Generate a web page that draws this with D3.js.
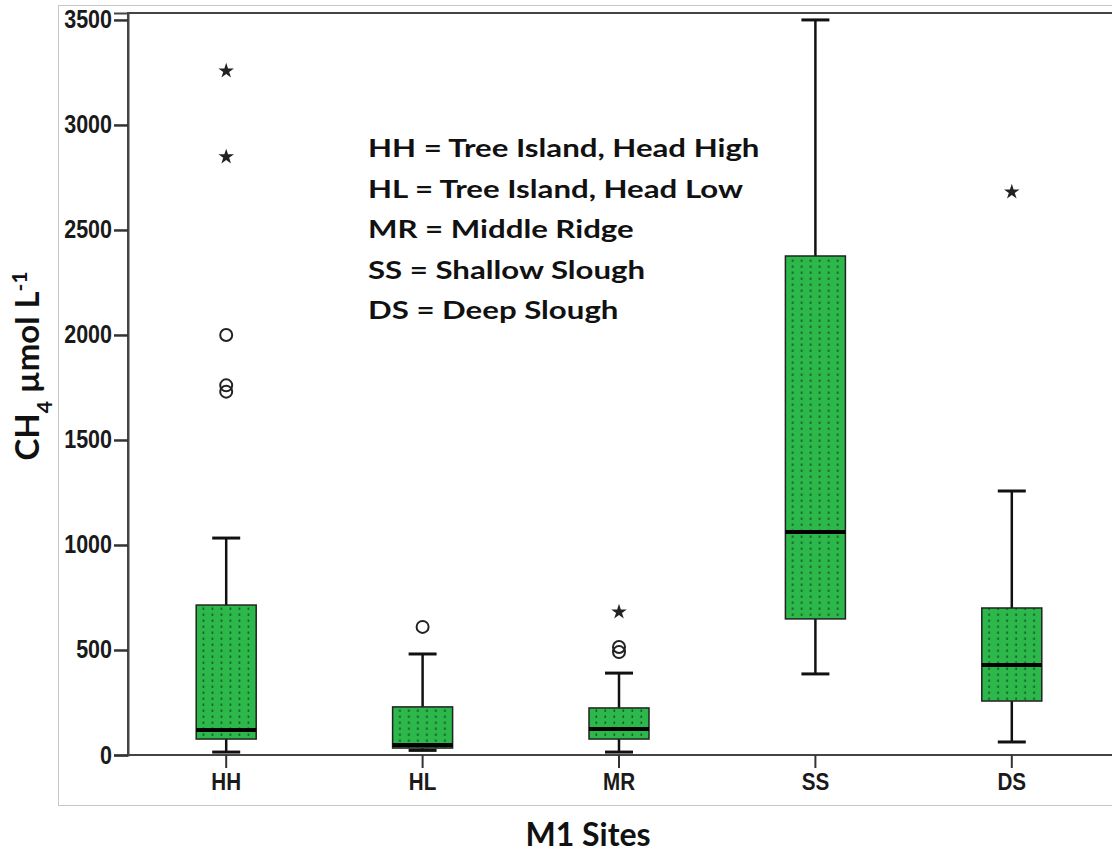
<!DOCTYPE html>
<html>
<head>
<meta charset="utf-8">
<script src="https://cdn.jsdelivr.net/npm/d3@7"></script>
<style>
  body { margin: 0; background: #fff; }
  svg { display: block; }
  .tick text { font-family: "Liberation Sans", Arial, sans-serif; font-weight: bold; fill: #1a1a1a; }
  .legend, .axis-label { font-family: Lato, "Open Sans", sans-serif; font-weight: bold; fill: #111; }
</style>
</head>
<body>
<svg id="chart"></svg>
<script>
// size
const width = 1112;
const height = 852;

// plot area
const plot = { left: 128, right: 1110, top: 13, bottom: 755 };

// data
const sites = ["HH", "HL", "MR", "SS", "DS"];
const whiskerLow  = [14, 22, 14, 386, 62];
const q1          = [76, 33, 76, 648, 257];
const median      = [119, 48, 124, 1062, 429];
const q3          = [714, 229, 224, 2376, 700];
const whiskerHigh = [1033, 481, 390, 3500, 1257];

// circles = outliers, stars = extreme values
const outlierSites  = ["HH", "HH", "HH", "HL", "MR", "MR"];
const outlierValues = [2000, 1760, 1730, 610, 514, 490];
const extremeSites  = ["HH", "HH", "MR", "DS"];
const extremeValues = [3257, 2848, 681, 2681];

const yTicks = [0, 500, 1000, 1500, 2000, 2500, 3000, 3500];
const legendLines = [
    "HH = Tree Island, Head High",
    "HL = Tree Island, Head Low",
    "MR = Middle Ridge",
    "SS = Shallow Slough",
    "DS = Deep Slough"
];

const boxes = sites.map((s, i) => ({
    site: s, lo: whiskerLow[i], q1: q1[i], med: median[i], q3: q3[i], hi: whiskerHigh[i]
}));

const svg = d3.select("#chart")
    .attr("width", width)
    .attr("height", height);

// dotted green fill
const pat = svg.append("defs").append("pattern")
    .attr("id", "dots")
    .attr("patternUnits", "userSpaceOnUse")
    .attr("width", 9)
    .attr("height", 6);
pat.append("rect").attr("width", 9).attr("height", 6).attr("fill", "#2db84b");
pat.append("rect").attr("x", 3.5).attr("y", 1.5).attr("width", 1.6).attr("height", 2.4).attr("fill", "#1a5a25");

// outer light frame
svg.append("rect")
    .attr("x", 58.5).attr("y", 5.5)
    .attr("width", 1070).attr("height", 800)
    .attr("fill", "none")
    .attr("stroke", "#c8c8c8");

// scales
const x = d3.scaleBand()
    .domain(sites)
    .range([plot.left, plot.right]);
const y = d3.scaleLinear()
    .domain([0, 3533])
    .range([plot.bottom, plot.top]);

// frame of plot area (right side runs off the picture)
svg.append("rect")
    .attr("x", plot.left).attr("y", plot.top)
    .attr("width", plot.right - plot.left + 10).attr("height", plot.bottom - plot.top)
    .attr("fill", "none")
    .attr("stroke", "#444")
    .attr("stroke-width", 2);

// axes
const sx = 0.86; // narrow the tick labels
const yAxis = d3.axisLeft(y).tickValues(yTicks).tickFormat(d3.format("d")).tickSize(14).tickPadding(2);
const gy = svg.append("g")
    .attr("transform", `translate(${plot.left},0)`)
    .call(yAxis);
gy.select(".domain").attr("stroke", "#444").attr("stroke-width", 2);
gy.selectAll(".tick line").attr("stroke", "#333").attr("stroke-width", 2.5);
gy.selectAll(".tick text")
    .style("font-size", "25px")
    .attr("x", -16 / sx)
    .attr("transform", `scale(${sx},1)`);

const xAxis = d3.axisBottom(x).tickSize(13).tickPadding(5);
const gx = svg.append("g")
    .attr("transform", `translate(0,${plot.bottom})`)
    .call(xAxis);
gx.select(".domain").remove();
gx.selectAll(".tick line").attr("stroke", "#333").attr("stroke-width", 2);
gx.selectAll(".tick text")
    .style("font-size", "24px")
    .attr("transform", `scale(${sx},1)`);

// boxes
const boxW = 60, capW = 28;
const g = svg.append("g");
const bx = g.selectAll("g.box").data(boxes).enter().append("g")
    .attr("class", "box")
    .attr("transform", d => `translate(${x(d.site) + x.bandwidth() / 2},0)`);

bx.append("line")
    .attr("x1", 0).attr("x2", 0)
    .attr("y1", d => y(d.hi)).attr("y2", d => y(d.q3))
    .attr("stroke", "#111").attr("stroke-width", 2.5);
bx.append("line")
    .attr("x1", 0).attr("x2", 0)
    .attr("y1", d => y(d.q1)).attr("y2", d => y(d.lo))
    .attr("stroke", "#111").attr("stroke-width", 2.5);
bx.append("line")
    .attr("x1", -capW / 2).attr("x2", capW / 2)
    .attr("y1", d => y(d.hi)).attr("y2", d => y(d.hi))
    .attr("stroke", "#111").attr("stroke-width", 3);
bx.append("line")
    .attr("x1", -capW / 2).attr("x2", capW / 2)
    .attr("y1", d => y(d.lo)).attr("y2", d => y(d.lo))
    .attr("stroke", "#111").attr("stroke-width", 3);
bx.append("rect")
    .attr("x", -boxW / 2)
    .attr("width", boxW)
    .attr("y", d => y(d.q3))
    .attr("height", d => y(d.q1) - y(d.q3))
    .attr("fill", "url(#dots)")
    .attr("stroke", "#222")
    .attr("stroke-width", 1.5);
bx.append("line")
    .attr("x1", -boxW / 2).attr("x2", boxW / 2)
    .attr("y1", d => y(d.med)).attr("y2", d => y(d.med))
    .attr("stroke", "#000").attr("stroke-width", 4);

// outliers
g.selectAll("circle.out").data(outlierValues).enter().append("circle")
    .attr("class", "out")
    .attr("cx", (d, i) => x(outlierSites[i]) + x.bandwidth() / 2)
    .attr("cy", d => y(d))
    .attr("r", 6)
    .attr("fill", "none")
    .attr("stroke", "#222")
    .attr("stroke-width", 2);

// extremes
g.selectAll("path.ext").data(extremeValues).enter().append("path")
    .attr("class", "ext")
    .attr("d", d3.symbol(d3.symbolStar).size(75))
    .attr("transform", (d, i) => `translate(${x(extremeSites[i]) + x.bandwidth() / 2},${y(d)})`)
    .attr("fill", "#222");

// legend text, stretched sideways like the source
svg.append("g").selectAll("text").data(legendLines).enter().append("text")
    .attr("class", "legend")
    .attr("transform", (d, i) => `translate(368,${157 + i * 40.6}) scale(1.3,1)`)
    .style("font-size", "24px")
    .text(d => d);

// axis labels
svg.append("text")
    .attr("class", "axis-label")
    .attr("text-anchor", "middle")
    .attr("x", 588)
    .attr("y", 846)
    .style("font-size", "32px")
    .text("M1 Sites");

const yl = svg.append("text")
    .attr("class", "axis-label")
    .attr("text-anchor", "middle")
    .attr("transform", "translate(39,366) rotate(-90)")
    .style("font-size", "33px");
yl.append("tspan").text("CH");
yl.append("tspan").attr("baseline-shift", "sub").style("font-size", "21px").text("4");
yl.append("tspan").text(" µmol L");
yl.append("tspan").attr("baseline-shift", "super").style("font-size", "21px").text("-1");
</script>
</body>
</html>
